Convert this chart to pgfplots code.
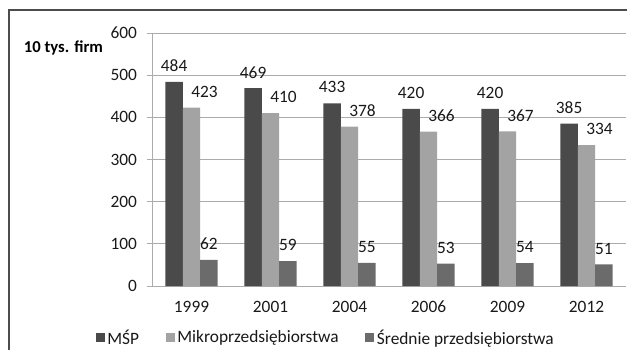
\documentclass[border=0pt]{standalone}
\usepackage{pgfplots}
\pgfplotsset{compat=1.18}
\usepackage{fontspec}
\setmainfont{Carlito}
\definecolor{msp}{HTML}{4A4A4A}
\definecolor{mikro}{HTML}{A3A3A3}
\definecolor{srednie}{HTML}{6B6B6B}
\definecolor{gridc}{HTML}{ABABAB}
\begin{document}
\begin{tikzpicture}
\useasboundingbox (0pt,0pt) rectangle (470.25pt,262.5pt);
% outer chart frame
\draw[black!70, line width=0.9pt] (6.75pt,0pt) -- (6.75pt,255pt) -- (470.25pt,255pt);
\node[font=\fontsize{12.5}{14}\selectfont\bfseries] at (47.6pt,226.5pt) {10 tys. firm};
\begin{axis}[
  at={(114pt,48pt)}, anchor=south west,
  scale only axis, width=355.5pt, height=189.75pt,
  xmin=-0.5, xmax=5.5, ymin=0, ymax=600,
  xtick={0,...,5}, xticklabels={1999,2001,2004,2006,2009,2012},
  ytick={0,100,...,600},
  axis lines*=left,
  axis line style={gridc, line width=0.75pt},
  ymajorgrids, grid style={gridc, line width=0.75pt},
  tick align=outside, major tick length=3.75pt,
  ytick style={gridc, line width=0.75pt},
  xtick style={draw=none},
  /pgf/number format/assume math mode=true,
  ticklabel style={font=\fontsize{13}{15}\selectfont, text=black!90},
  yticklabel style={xshift=-4pt},
  xticklabel style={yshift=-4pt},
  ybar=0pt, bar width=0.22,
  nodes near coords,
  nodes near coords style={font=\fontsize{13}{15}\selectfont, text=black!90, anchor=center, yshift=12pt},
  legend columns=3,
  legend style={draw=none, at={(0.367,-0.205)}, anchor=center, inner sep=1pt,
    font=\fontsize{13}{15}\selectfont, text=black!90,
    /tikz/every even column/.append style={column sep=18pt}},
  legend image code/.code={\fill[#1] (0pt,-3.4pt) rectangle (6.8pt,3.4pt);},
]
\addplot[fill=msp, draw=none] coordinates {(0,484) (1,469) (2,433) (3,420) (4,420) (5,385)};
\addplot[fill=mikro, draw=none, every node near coord/.append style={xshift=9.75pt}] coordinates {(0,423) (1,410) (2,378) (3,366) (4,367) (5,334)};
\addplot[fill=srednie, draw=none] coordinates {(0,62) (1,59) (2,55) (3,53) (4,54) (5,51)};
\legend{MŚP, Mikroprzedsiębiorstwa, Średnie przedsiębiorstwa}
\end{axis}
\end{tikzpicture}
\end{document}
